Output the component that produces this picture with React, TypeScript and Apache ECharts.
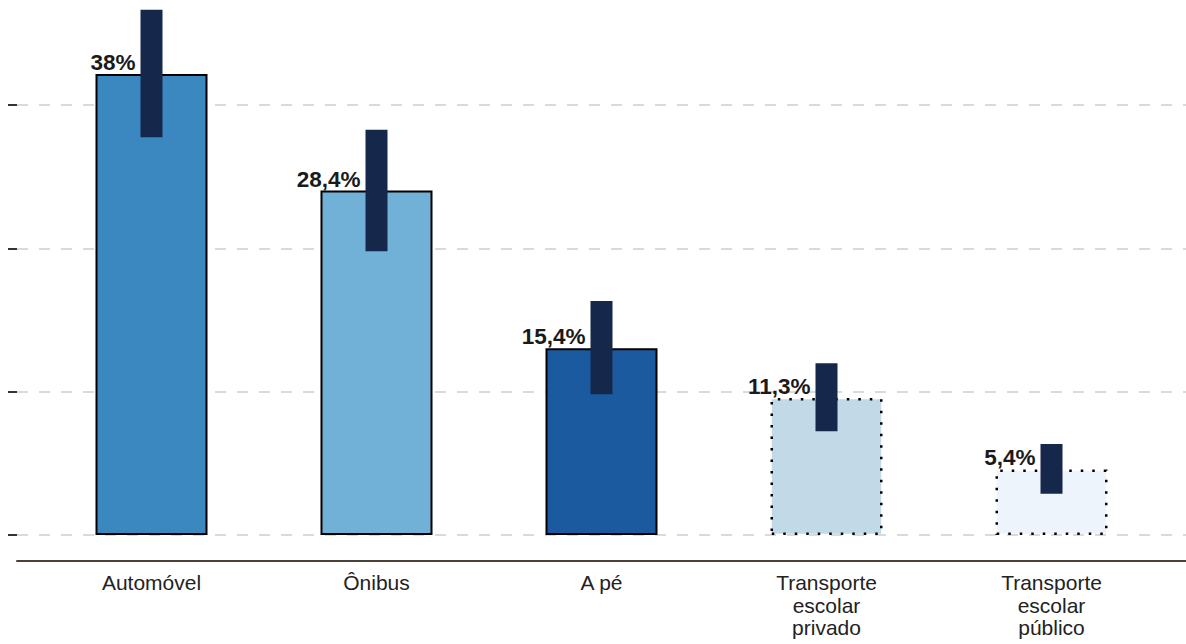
import React, { useEffect, useRef } from 'react';
import * as echarts from 'echarts';

const categories = [
  'Automóvel',
  'Ônibus',
  'A pé',
  'Transporte\nescolar\nprivado',
  'Transporte\nescolar\npúblico',
];
const values = [38, 28.4, 15.4, 11.3, 5.4];
const errorLow = [32.8, 23.4, 11.6, 8.55, 3.4];
const errorHigh = [43.3, 33.4, 19.3, 14.15, 7.5];
const yTickStep = 11.82;

const FONT = '"Liberation Sans", Arial, Helvetica, sans-serif';
const fills = ['#3b87c0', '#72b1d7', '#1c5aa0', '#c2d9e8', '#eef4fc'];
const dotted = [false, false, false, true, true];

const SHIFT = 40; // chart div is shifted up so the (empty) top tick falls outside the window
const EXTRA_W = 20; // chart div is wider so the axis line and grid lines run to the window edge

export default function App() {
  const ref = useRef<HTMLDivElement>(null);

  useEffect(() => {
    if (!ref.current) return;
    const chart = echarts.init(ref.current, null, { renderer: 'svg' });
    const yMax = yTickStep * 4;
    const gridTop = SHIFT - 38.5;
    const gridBottom = 109;

    const option: any = {
      animation: false,
      grid: [
        { left: 17, right: 0, top: gridTop, bottom: gridBottom },
        { left: 39, right: 22 + EXTRA_W, top: gridTop, bottom: gridBottom },
      ],
      xAxis: [
        {
          gridIndex: 0,
          type: 'category',
          data: categories,
          offset: 25.5,
          axisLine: { show: true, onZero: false, lineStyle: { color: '#4a4238', width: 2 } },
          axisTick: { show: false },
          axisLabel: { show: false },
          splitLine: { show: false },
        },
        {
          gridIndex: 1,
          type: 'category',
          data: categories,
          offset: 25.5,
          axisLine: { show: false, onZero: false },
          axisTick: { show: false },
          splitLine: { show: false },
          axisLabel: {
            interval: 0,
            margin: 11,
            fontSize: 21,
            lineHeight: 22.5,
            color: '#222222',
            fontFamily: FONT,
          },
        },
      ],
      yAxis: [
        {
          gridIndex: 0,
          type: 'value',
          min: 0,
          max: yMax,
          interval: yTickStep,
          axisLine: { show: false },
          axisTick: { show: true, length: 9, lineStyle: { color: '#3a332b', width: 2 } },
          axisLabel: { show: false },
          splitLine: { show: true, lineStyle: { color: '#dadada', width: 2, type: [11, 11] } },
        },
        {
          gridIndex: 1,
          type: 'value',
          min: 0,
          max: yMax,
          interval: yTickStep,
          show: false,
          splitLine: { show: false },
        },
      ],
      series: [
        {
          type: 'bar',
          xAxisIndex: 1,
          yAxisIndex: 1,
          barWidth: 112,
          z: 2,
          data: values.map((v, i) => ({
            value: v,
            itemStyle: {
              color: fills[i],
              borderColor: '#000000',
              borderWidth: dotted[i] ? 2.5 : 2,
              borderType: dotted[i] ? [2.5, 9] : 'solid',
            },
          })),
          label: {
            show: true,
            position: ['50%', 0],
            offset: [-16, 0],
            align: 'right',
            verticalAlign: 'bottom',
            fontSize: 22.5,
            fontWeight: 'bold',
            color: '#1a1a1a',
            fontFamily: FONT,
            formatter: (p: any) => String(p.value).replace('.', ',') + '%',
          },
        },
        {
          type: 'custom',
          xAxisIndex: 1,
          yAxisIndex: 1,
          z: 5,
          data: values.map((_, i) => [i, errorLow[i], errorHigh[i]]),
          encode: { x: 0, y: [1, 2] },
          renderItem: (params: any, api: any) => {
            const idx = api.value(0);
            const top = api.coord([idx, api.value(2)]);
            const bot = api.coord([idx, api.value(1)]);
            return {
              type: 'rect',
              shape: { x: top[0] - 11, y: top[1], width: 22, height: bot[1] - top[1] },
              style: { fill: '#15284b' },
            };
          },
        },
      ],
    };

    chart.setOption(option);
    return () => {
      chart.dispose();
    };
  }, []);

  return (
    <div style={{ position: 'fixed', left: 0, top: 0, width: 1186, height: 644, overflow: 'hidden', background: '#ffffff' }}>
      <div
        ref={ref}
        style={{ position: 'absolute', left: 0, top: -SHIFT, width: 1186 + EXTRA_W, height: 644 + SHIFT }}
      />
    </div>
  );
}
